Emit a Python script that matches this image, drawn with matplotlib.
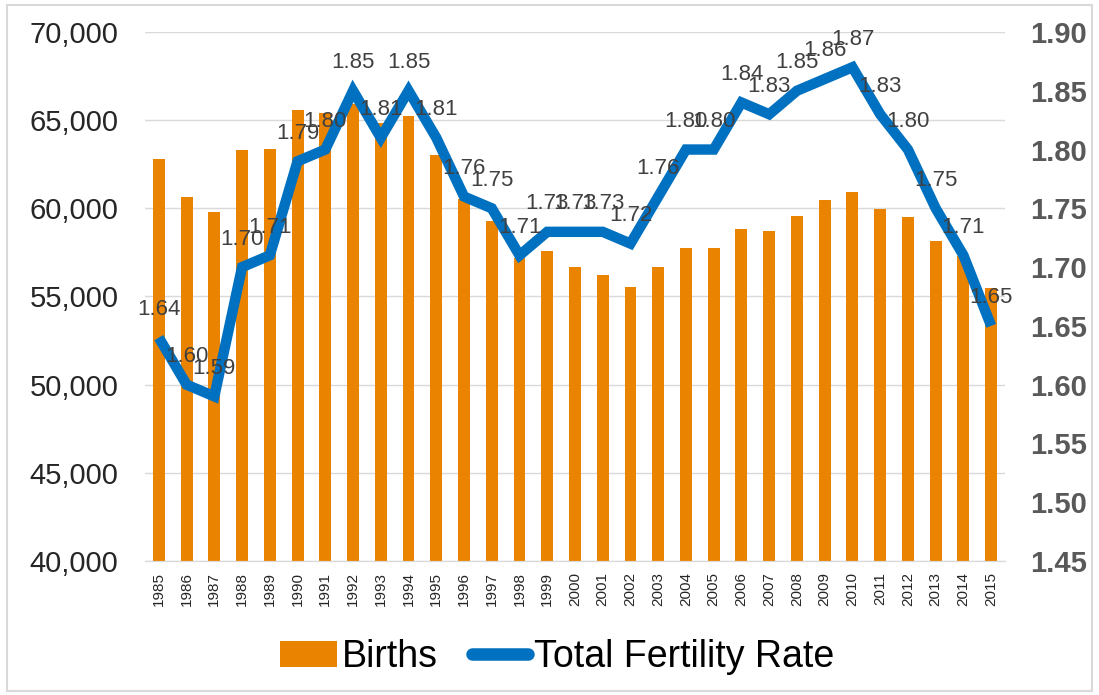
import matplotlib.pyplot as plt
from matplotlib.patches import Rectangle
from matplotlib.lines import Line2D
import numpy as np

plt.rcParams['font.family'] = ['Liberation Sans', 'DejaVu Sans']

years = [str(y) for y in range(1985, 2016)]
births = [62800, 60650, 59800, 63300, 63350, 65550, 65400, 65900, 64850, 65250,
          63050, 60500, 59300, 57200, 57600, 56700, 56200, 55550, 56650, 57750,
          57750, 58850, 58700, 59550, 60450, 60950, 59950, 59500, 58150, 57300,
          55500]
tfr = [1.64, 1.60, 1.59, 1.70, 1.71, 1.79, 1.80, 1.85, 1.81, 1.85,
       1.81, 1.76, 1.75, 1.71, 1.73, 1.73, 1.73, 1.72, 1.76, 1.80,
       1.80, 1.84, 1.83, 1.85, 1.86, 1.87, 1.83, 1.80, 1.75, 1.71,
       1.65]

orange = '#EA8400'
blue = '#0070C0'

fig = plt.figure(figsize=(10.99, 6.95), dpi=100)
ax = fig.add_axes([0.1319, 0.1928, 0.7826, 0.7612])
ax2 = ax.twinx()

x = np.arange(len(years))
bars = ax.bar(x, births, width=0.43, color=orange, zorder=2, label='Births')
ax.set_ylim(40000, 70000)
ax.set_yticks(np.arange(40000, 70001, 5000))
ax.set_yticklabels([f"{v:,}" for v in range(40000, 70001, 5000)])
ax.set_xlim(-0.5, len(years) - 0.5)
ax.set_xticks(x)
ax.set_xticklabels(years, rotation=90, fontsize=11, color='#262626')
ax.grid(axis='y', color='#D9D9D9', lw=1, zorder=0)
ax.set_axisbelow(True)

ax2.plot(x, tfr, color=blue, lw=7.5, solid_joinstyle='miter',
         solid_capstyle='butt', zorder=3)
ax2.set_ylim(1.45, 1.90)
ax2.set_yticks(np.arange(1.45, 1.901, 0.05))
ax2.set_yticklabels([f"{v:.2f}" for v in np.arange(1.45, 1.901, 0.05)],
                    fontweight='bold', color='#595959')

for xi, v in zip(x, tfr):
    ax2.annotate(f"{v:.2f}", (xi, v), xytext=(0, 28), textcoords='offset pixels',
                 ha='center', va='center', fontsize=16, color='#404040', zorder=5)

for a in (ax, ax2):
    for s in ('left', 'right', 'top'):
        a.spines[s].set_visible(False)
    a.spines['bottom'].set_color('#D9D9D9')
ax.tick_params(axis='y', length=0, pad=19, labelsize=21, labelcolor='#262626')
ax2.tick_params(axis='y', length=0, pad=18, labelsize=21)
ax.tick_params(axis='x', length=0, pad=8)
ax.set_zorder(1)
ax2.set_zorder(2)
ax.patch.set_visible(False)

line_handle = Line2D([], [], color=blue, lw=9, solid_capstyle='round',
                     label='Total Fertility Rate')
fig.legend(handles=[bars, line_handle], loc='center', bbox_to_anchor=(0.507, 0.055),
           ncol=2, frameon=False, fontsize=27, handlelength=1.5,
           handletextpad=0.15, columnspacing=0.9)

fig.patches.append(Rectangle((0.006, 0.006), 0.988, 0.987, transform=fig.transFigure,
                             fill=False, ec='#D9D9D9', lw=1.5))

fig.savefig('out.png', dpi=100)
